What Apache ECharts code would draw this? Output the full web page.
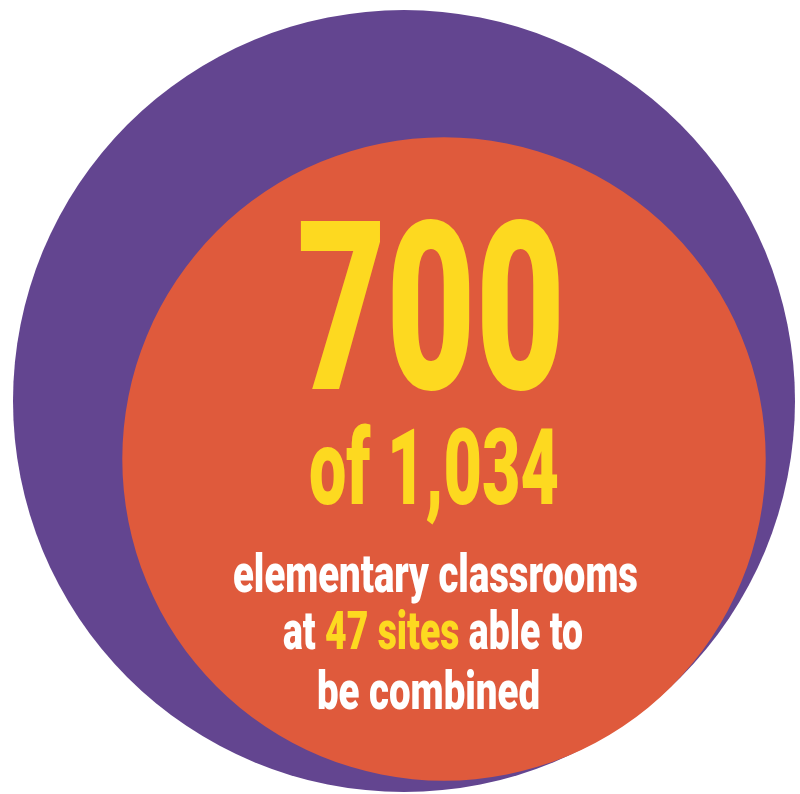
<!DOCTYPE html>
<html>
<head>
<meta charset="utf-8">
<script src="https://cdn.jsdelivr.net/npm/echarts@6/dist/echarts.min.js"></script>
<style>
html,body{margin:0;padding:0;background:#fff;}
#chart{width:800px;height:794px;}
</style>
</head>
<body>
<div id="chart"></div>
<script>
// ---- data ----
const categories = ['all elementary classrooms', 'classrooms able to be combined'];
const classroomValues = [1034, 700];
const siteCount = 47;
const descriptionLines = ['elementary classrooms', 'at {sites} able to', 'be combined'];

// ---- styles ----
const PURPLE = '#634590';
const ORANGE = '#df5a3c';
const YELLOW = '#fdd920';
const WHITE = '#ffffff';
const FAMILY = 'Roboto';

const chart = echarts.init(document.getElementById('chart'), null, {renderer: 'canvas'});

const maxR = 391; // pixel radius for the total
const radiusFor = v => maxR * Math.sqrt(v / classroomValues[0]);
const fmt = n => n.toLocaleString('en-US');

const measureCtx = document.createElement('canvas').getContext('2d');
function fitScale(text, font, targetWidth) {
  measureCtx.font = font;
  return targetWidth / measureCtx.measureText(text).width;
}

const line2 = descriptionLines[1].split('{sites}');
const line2Plain = line2[0] + siteCount + ' sites' + line2[1];
const bigText = String(classroomValues[1]);
const ofText = 'of ' + fmt(classroomValues[0]);

const fBig = '900 235px ' + FAMILY;
const fOf = '900 105px ' + FAMILY;
const fSmall = '900 53px ' + FAMILY;

function textEl(text, font, cx, cy, width, fill, rich) {
  const style = {text: text, font: font, fill: fill, align: 'center', verticalAlign: 'middle'};
  if (rich) style.rich = rich;
  return {
    type: 'text', x: cx, y: cy, z: 100, silent: true,
    scaleX: fitScale(rich ? line2Plain : text, font, width),
    style: style
  };
}

const option = {
  animation: false,
  backgroundColor: '#ffffff',
  series: [
    {
      type: 'pie',
      name: categories[0],
      center: [404, 401],
      radius: [0, radiusFor(classroomValues[0])],
      silent: true,
      label: {show: false},
      labelLine: {show: false},
      itemStyle: {color: PURPLE, borderWidth: 0},
      emphasis: {disabled: true},
      data: [{name: categories[0], value: classroomValues[0]}]
    },
    {
      type: 'pie',
      name: categories[1],
      center: [444, 459],
      radius: [0, radiusFor(classroomValues[1])],
      silent: true,
      label: {show: false},
      labelLine: {show: false},
      itemStyle: {color: ORANGE, borderWidth: 0},
      emphasis: {disabled: true},
      data: [{name: categories[1], value: classroomValues[1]}]
    }
  ],
  graphic: [
    textEl(bigText, fBig, 431, 330, 268, YELLOW),
    textEl(ofText, fOf, 434, 478, 250, YELLOW),
    textEl(descriptionLines[0], fSmall, 435.5, 579, 405, WHITE),
    textEl('{w|' + line2[0] + '}{y|' + siteCount + ' sites}{w|' + line2[1] + '}', fSmall, 433, 636, 300, WHITE, {
      w: {fill: WHITE, font: fSmall},
      y: {fill: YELLOW, font: fSmall}
    }),
    textEl(descriptionLines[2], fSmall, 428.5, 696, 223, WHITE)
  ]
};
chart.setOption(option);
</script>
</body>
</html>
